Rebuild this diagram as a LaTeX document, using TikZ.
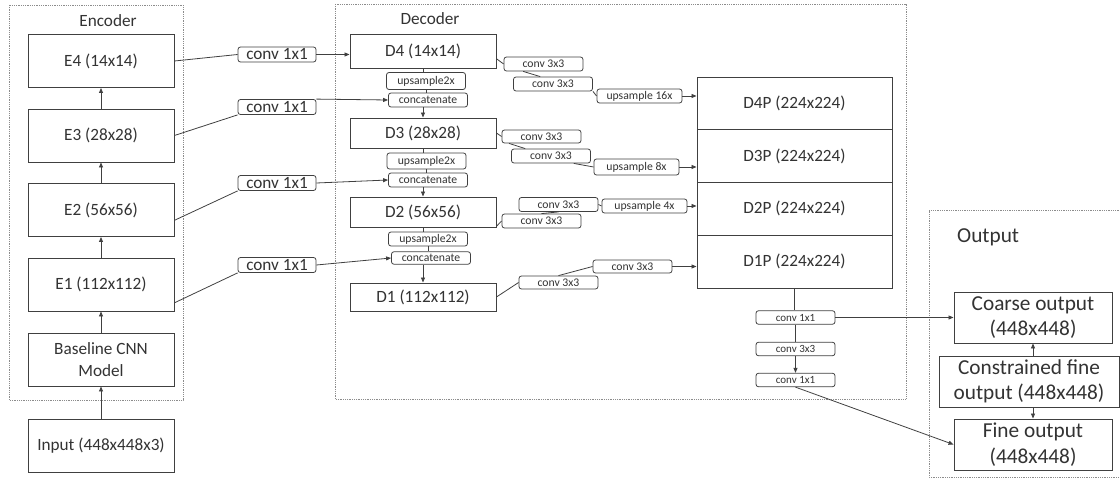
\documentclass[tikz,border=0pt]{standalone}
\usepackage{fontspec}
\setmainfont{Carlito}
\usetikzlibrary{arrows.meta}

\tikzset{
  frame/.style={draw=black!45, densely dotted, line width=0.8pt},
  block/.style={draw=black!75, line width=0.9pt, fill=white, text=black!80, inner sep=0pt,
    minimum width=146pt, minimum height=53pt, align=center,
    font=\fontsize{17.2}{21.5}\selectfont},
  dblock/.style={block, minimum height=30pt},
  pblock/.style={block, minimum width=195pt, minimum height=52.75pt},
  outblock/.style={block, minimum width=158pt, minimum height=51pt,
    font=\fontsize{21.3}{25.5}\selectfont},
  op/.style={draw=black!75, line width=0.8pt, rounded corners=2.5pt, fill=white, text=black!80,
    inner sep=0pt, minimum width=79pt, minimum height=14pt,
    font=\fontsize{11.7}{13}\selectfont},
  bigop/.style={op, minimum width=78pt, minimum height=15pt, font=\fontsize{17.2}{19}\selectfont},
  wideop/.style={op, minimum width=85pt},
  tinyop/.style={op, minimum height=13.5pt, font=\fontsize{11}{12}\selectfont},
  frametitle/.style={text=black!80, inner sep=0pt},
  link/.style={draw=black!75, line width=0.8pt},
  flow/.style={link, -{Triangle[length=5pt,width=4pt]}},
}

\begin{document}
\begin{tikzpicture}[x=1pt,y=1pt,yscale=-1,xscale=1]
\useasboundingbox (0,0) rectangle (1120,478);

%Frames
\draw [frame] (9,5) rectangle (183,400);
\draw [frame] (335,4) rectangle (906,399);
\draw [frame] (1121,210) -- (929,210) -- (929,477) -- (1121,477);

% Text Node
\node [frametitle, font=\fontsize{17.2}{20}\selectfont] (enctitle) at (108,21) {Encoder};
% Text Node
\node [frametitle, font=\fontsize{17.2}{20}\selectfont] (dectitle) at (430,19) {Decoder};
% Text Node
\node [frametitle, anchor=west, font=\fontsize{21.3}{24}\selectfont] (outtitle) at (957,237) {Output};

%Encoder
\node [block] (E4) at (101,61) {E4 (14x14)};
\node [block] (E3) at (101,135.5) {E3 (28x28)};
\node [block] (E2) at (101,210) {E2 (56x56)};
\node [block] (E1) at (101,284.5) {E1 (112x112)};
\node [block] (base) at (101,359.5) {Baseline CNN\\Model};
\node [block] (input) at (101,446) {Input (448x448x3)};

\draw [flow] (input) -- (base);
\draw [flow] (base) -- (E1);
\draw [flow] (E1) -- (E2);
\draw [flow] (E2) -- (E3);
\draw [flow] (E3) -- (E4);

%Skip convolutions
\node [bigop] (skip4) at (277,54.5) {conv 1x1};
\node [bigop] (skip3) at (277,107) {conv 1x1};
\node [bigop] (skip2) at (277,183) {conv 1x1};
\node [bigop] (skip1) at (277,265) {conv 1x1};

%Decoder
\node [block, minimum height=34pt] (D4) at (423,51) {D4 (14x14)};
\node [dblock] (D3) at (423,133) {D3 (28x28)};
\node [dblock] (D2) at (423,212) {D2 (56x56)};
\node [dblock, minimum height=28pt] (D1) at (423,297) {D1 (112x112)};

\node [op, minimum height=17pt] (up3) at (426,81) {upsample2x};
\node [op] (cat3) at (428,100) {concatenate};
\node [op, minimum height=16pt] (up2) at (426.5,161) {upsample2x};
\node [op] (cat2) at (428,180) {concatenate};
\node [op] (up1) at (428,239) {upsample2x};
\node [op, minimum height=12.5pt] (cat1) at (431,258) {concatenate};

\draw [link] (E4.east) -- (skip4.west);
\draw [flow] (skip4.east) -- (D4.west |- skip4.east);
\draw [link] (E3.east) -- (skip3.south west);
\draw [flow] (skip3.north east) -- (cat3.west);
\draw [link] (E2.-8) -- (skip2.south west);
\draw [flow] (skip2.east) -- (cat2.west);
\draw [link] (E1.-14) -- (skip1.south west);
\draw [flow] (skip1.east) -- (cat1.west);

\draw [link] (D4.south) -- (D4.south |- up3.north);
\draw [link] (up3.south) -- (up3.south |- cat3.north);
\draw [flow] (D3.north |- cat3.south) -- (D3.north);
\draw [link] (D3.south) -- (D3.south |- up2.north);
\draw [link] (up2.south) -- (up2.south |- cat2.north);
\draw [flow] (D2.north |- cat2.south) -- (D2.north);
\draw [link] (D2.south) -- (D2.south |- up1.north);
\draw [link] (up1.south) -- (up1.south |- cat1.north);
\draw [flow] (D1.north |- cat1.south) -- (D1.north);

%Side branches
\node [op] (c4a) at (543.5,64) {conv 3x3};
\node [op] (c4b) at (553,84) {conv 3x3};
\node [wideop] (up16) at (639.5,96) {upsample 16x};
\node [op, minimum height=13pt] (c3a) at (541.5,136.5) {conv 3x3};
\node [op] (c3b) at (551,156) {conv 3x3};
\node [wideop, minimum height=16pt] (up8) at (636.5,167) {upsample 8x};
\node [op] (c2b) at (558.5,204.5) {conv 3x3};
\node [wideop] (up4) at (644.5,206) {upsample 4x};
\node [op] (c2a) at (541.5,221) {conv 3x3};
\node [op, minimum height=13pt] (c1a) at (558.5,282.5) {conv 3x3};
\node [op, minimum height=13pt] (c1b) at (632.5,266.5) {conv 3x3};

\node [pblock] (D4P) at (794.5,103.4) {D4P (224x224)};
\node [pblock] (D3P) at (794.5,156.1) {D3P (224x224)};
\node [pblock] (D2P) at (794.5,208.9) {D2P (224x224)};
\node [pblock] (D1P) at (794.5,261.6) {D1P (224x224)};

\draw [link] (D4.354) -- (c4a.west);
\draw [link] (c4a.200) -- (c4b.150);
\draw [link] (c4b.south east) -- (up16.west);
\draw [flow] (up16.east) -- (D4P.west |- up16.east);
\draw [link] (D3.east) -- (c3a.west);
\draw [link] (c3a.192) -- (c3b.164);
\draw [link] (c3b.-18) -- (up8.west);
\draw [flow] (up8.east) -- (D3P.west |- up8.east);
\draw [link] (D2.-11) -- (c2a.west);
\draw [link] (c2a.north) -- (c2b.south);
\draw [link] (c2b.east) -- (up4.west);
\draw [flow] (up4.east) -- (D2P.west |- up4.east);
\draw [link] (D1.east) -- (c1a.west);
\draw [link] (c1a.north) -- (c1b.west);
\draw [flow] (c1b.east) -- (D1P.west |- c1b.east);

%Output head
\node [tinyop] (head1) at (795.5,317.5) {conv 1x1};
\node [tinyop] (head2) at (795.5,349) {conv 3x3};
\node [tinyop] (head3) at (795.5,380) {conv 1x1};

\node [outblock] (coarse) at (1033,317.5) {Coarse output\\(448x448)};
\node [outblock, minimum width=180pt] (constr) at (1029,381.5) {Constrained fine\\output (448x448)};
\node [outblock] (fine) at (1033,444.5) {Fine output\\(448x448)};

\draw [link] (D1P.south) -- (D1P.south |- head1.north);
\draw [link] (head1.south) -- (head2.north);
\draw [flow] (head2.south) -- (head3.north);
\draw [flow] (head1.east) -- (coarse.west);
\draw [flow] (head3.south) -- (fine.west);
\draw [flow] (constr.north -| coarse.south) -- (coarse.south);
\draw [flow] (constr.south -| fine.north) -- (fine.north);

\end{tikzpicture}
\end{document}
